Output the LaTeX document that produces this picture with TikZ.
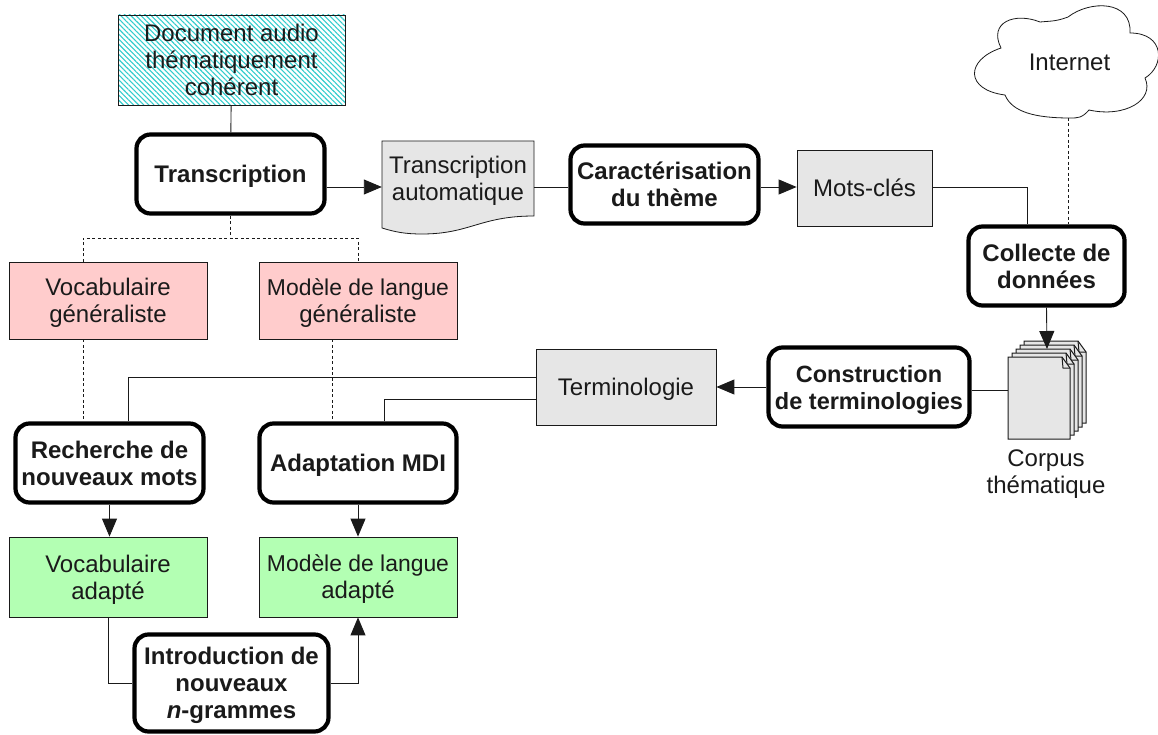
\documentclass[tikz,border=0pt]{standalone}
\usepackage{fontspec}
\setmainfont{Liberation Sans}
\usetikzlibrary{arrows.meta, patterns.meta, positioning, calc}
\definecolor{greybox}{RGB}{230, 230, 230}
\definecolor{pinkbox}{RGB}{255, 204, 204}
\definecolor{greenbox}{RGB}{179, 255, 179}
\definecolor{hatchcyan}{RGB}{51, 204, 204}
\definecolor{inkgrey}{RGB}{26, 26, 26}

\tikzset{
  every node/.style={text=inkgrey, align=center, font=\fontsize{24}{27}\selectfont, inner sep=0pt, text depth=0pt},
  stepbox/.style={draw=black, line width=4.2pt, rounded corners=14pt, fill=white, font=\fontsize{24}{27}\selectfont\bfseries},
  databox/.style={draw=inkgrey, line width=0.8pt, fill=#1},
  link/.style={draw=inkgrey, line width=0.9pt},
  dashlink/.style={link, dash pattern=on 3pt off 2.5pt},
  arrowlink/.style={link, -{Triangle[length=18pt,width=15pt]}},
}

\begin{document}
\begin{tikzpicture}[x=1pt, y=-1pt]
  \useasboundingbox (0,0) rectangle (1158,735);

  % inputs
  \node[draw=inkgrey, line width=0.8pt, minimum width=227pt, minimum height=90pt,
    pattern={Lines[angle=-45, distance=3.6pt, line width=1.1pt]}, pattern color=hatchcyan] (docaudio) at (231.5,60) {Document audio\\thématiquement\\cohérent};
  \draw[line width=0.8pt, draw=inkgrey] (1001,48) .. controls (988,22) and (1015,12) .. (1040,22)
    .. controls (1048,21) and (1055,22) .. (1068,17)
    .. controls (1090,0) and (1132,0) .. (1130,33)
    .. controls (1165,33) and (1165,66) .. (1145,78)
    .. controls (1155,100) and (1125,118) .. (1089,110)
    .. controls (1082,118) and (1078,118) .. (1070,118)
    .. controls (1035,118) and (1012,112) .. (1005,95)
    .. controls (965,90) and (965,60) .. (1001,48) -- cycle;
  \coordinate (cloudfoot) at (1068,118);
  \node (internet) at (1069.5,62) {Internet};

  % main steps
  \node[stepbox, minimum width=188pt, minimum height=79pt] (transcription) at (230.5,174) {Transcription};
  \node[stepbox, minimum width=188pt, minimum height=78pt] (theme) at (664.5,184.5) {Caractérisation\\du thème};
  \node[stepbox, minimum width=156pt, minimum height=79pt] (collecte) at (1046.5,266) {Collecte de\\données};
  \node[stepbox, font=\fontsize{23.5}{27}\selectfont\bfseries, minimum width=201pt, minimum height=79pt] (construction) at (869,387) {Construction\\de terminologies};
  \node[stepbox, minimum width=188pt, minimum height=79pt] (recherche) at (109.5,463) {Recherche de\\nouveaux mots};
  \node[stepbox, minimum width=197pt, minimum height=79pt] (mdi) at (358,463) {Adaptation MDI};
  \node[stepbox, minimum width=194pt, minimum height=97pt, text depth=-7pt] (ngrammes) at (231.5,683) {Introduction de\\nouveaux\\\textit{n}-grammes};

  % transcription sheet
  \draw[line width=0.8pt, draw=inkgrey, fill=greybox] (382,141) -- (534,141) -- (534,216)
    .. controls (480,216) and (470,234) .. (422,234)
    .. controls (405,234) and (395,232) .. (382,228) -- cycle;
  \node[minimum width=152pt, minimum height=76pt] (transauto) at (458,178) {Transcription\\automatique};

  % data boxes
  \node[databox=greybox, minimum width=135pt, minimum height=76pt] (motscles) at (864.5,188) {Mots-clés};
  \node[databox=greybox, minimum width=180pt, minimum height=76pt] (terminologie) at (626,387) {Terminologie};
  \node[databox=pinkbox, minimum width=198pt, minimum height=77pt] (vocabgen) at (108,300.5) {Vocabulaire\\généraliste};
  \node[databox=pinkbox, minimum width=198pt, minimum height=77pt] (modelegen) at (358,300.5) {\fontsize{22.9}{27}\selectfont Modèle de langue\\généraliste};
  \node[databox=greenbox, minimum width=198pt, minimum height=80pt] (vocabadapt) at (108,577) {Vocabulaire\\adapté};
  \node[databox=greenbox, minimum width=198pt, minimum height=80pt] (modeleadapt) at (358,577) {\fontsize{22.9}{27}\selectfont Modèle de langue\\adapté};

  % corpus pages
  \foreach \i in {4,3,2,1,0} {
    \draw[line width=1pt, draw=inkgrey, fill=greybox] ($(1008,357)+(4*\i,-4*\i)$) -- ++(54,0) -- ++(8,11) -- ++(0,71) -- ++(-62,0) -- cycle;
    \draw[line width=1pt, draw=inkgrey] ($(1062,357)+(4*\i,-4*\i)$) -- ++(1,11) -- ++(7,0);
  }
  \coordinate (corpus) at (1008,390);
  \coordinate (corpustop) at (1047,349);
  \node (corpuslabel) at (1046,472) {Corpus\\thématique};

  % connectors
  \coordinate (mainline) at (0,187);
  \coordinate (vocabdash) at (83,0);
  \coordinate (modeledash) at (332,0);
  \draw[link] (docaudio) -- (transcription);
  \draw[arrowlink] (transcription.east |- mainline) -- (transauto.west |- mainline);
  \draw[link] (transauto.east |- mainline) -- (theme.west |- mainline);
  \draw[arrowlink] (theme.east |- mainline) -- (motscles.west |- mainline);
  \draw[link] (motscles.east |- mainline) -| (collecte.north -| 1027,0);
  \draw[dashlink] (cloudfoot) -- (cloudfoot |- collecte.north);
  \draw[arrowlink] (collecte.south) -- (corpustop);
  \draw[link] (corpus) -- (corpus -| construction.east);
  \draw[arrowlink] (construction) -- (terminologie);
  \draw[link] (terminologie.west |- 0,377) -| (recherche.north -| 128,0);
  \draw[link] (terminologie.west |- 0,399) -| (mdi.north -| 384,0);
  \draw[dashlink] (transcription.south) -- (230.5,238);
  \draw[dashlink] (vocabgen.north -| vocabdash) |- (358,238) -- (modelegen.north);
  \draw[dashlink] (vocabgen.south -| vocabdash) -- (recherche.north -| vocabdash);
  \draw[dashlink] (modelegen.south -| modeledash) -- (mdi.north -| modeledash);
  \draw[arrowlink] (recherche.south) -- (recherche.south |- vocabadapt.north);
  \draw[arrowlink] (mdi.south) -- (modeleadapt.north);
  \draw[link] (vocabadapt.south) |- (ngrammes.west);
  \draw[arrowlink] (ngrammes.east) -| (modeleadapt.south);
\end{tikzpicture}
\end{document}
